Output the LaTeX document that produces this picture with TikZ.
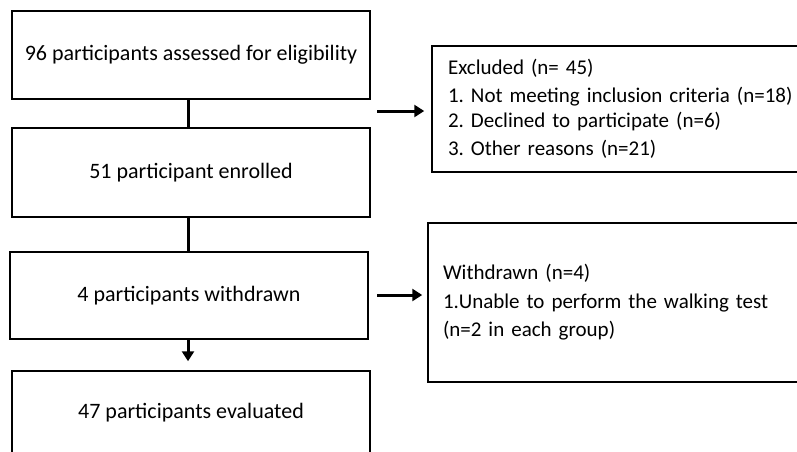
\documentclass[tikz,border=0pt]{standalone}
\usepackage{fontspec}
\setmainfont{Carlito}
\usetikzlibrary{arrows.meta}
\frenchspacing
\begin{document}
\begin{tikzpicture}[x=1pt,y=-1pt,
  txt/.style={font=\fontsize{22}{27}\selectfont},
  sidetxt/.style={font=\fontsize{21}{27}\selectfont},
  box/.style={draw=black,line width=1.5pt,rectangle,inner sep=0pt,txt},
  sidebox/.style={box,sidetxt,inner ysep=0pt,align=left},
  link/.style={line width=3pt},
  arr/.style={line width=3pt,-{Triangle[length=10pt,width=12pt]}}]
\useasboundingbox (0,0) rectangle (797,451);
\coordinate (cx) at (188,0);
\node[box,minimum width=358pt,minimum height=88pt] (b1) at (191,55) {96 participants assessed for eligibility};
\node[box,minimum width=358pt,minimum height=89pt] (b2) at (191,172.5) {51 participant enrolled};
\node[box,minimum width=358pt,minimum height=87pt] (b3) at (189,295.5) {4 participants withdrawn};
\node[box,minimum width=358pt,minimum height=100pt] (b4) at (191,421) {};
\node[txt,inner sep=0pt] (t4) at (191,413) {47 participants evaluated};
\node[sidebox,minimum width=392pt,minimum height=126pt,text width=360pt,inner xsep=16pt] (ex) at (628,109)
  {Excluded (n= 45)\\[1pt]1. Not meeting inclusion criteria (n=18)\\[-2pt]2. Declined to participate (n=6)\\[1pt]3. Other reasons (n=21)};
\node[sidebox,minimum width=390pt,minimum height=159pt,text width=360pt,inner xsep=15pt] (wd) at (623,302.5)
  {Withdrawn (n=4)\\[1.5pt]1.Unable to perform the walking test\\[1.5pt](n=2 in each group)};
\coordinate (s1) at (377,111);
\coordinate (s2) at (377,295);
\draw[link] (b1.south -| cx) -- (b2.north -| cx);
\draw[link] (b2.south -| cx) -- (b3.north -| cx);
\draw[arr,shorten >=9pt] (b3.south -| cx) -- (b4.north -| cx);
\draw[arr,shorten >=7pt] (s1) -- (s1 -| ex.west);
\draw[arr,shorten >=5pt] (s2) -- (s2 -| wd.west);
\end{tikzpicture}
\end{document}
